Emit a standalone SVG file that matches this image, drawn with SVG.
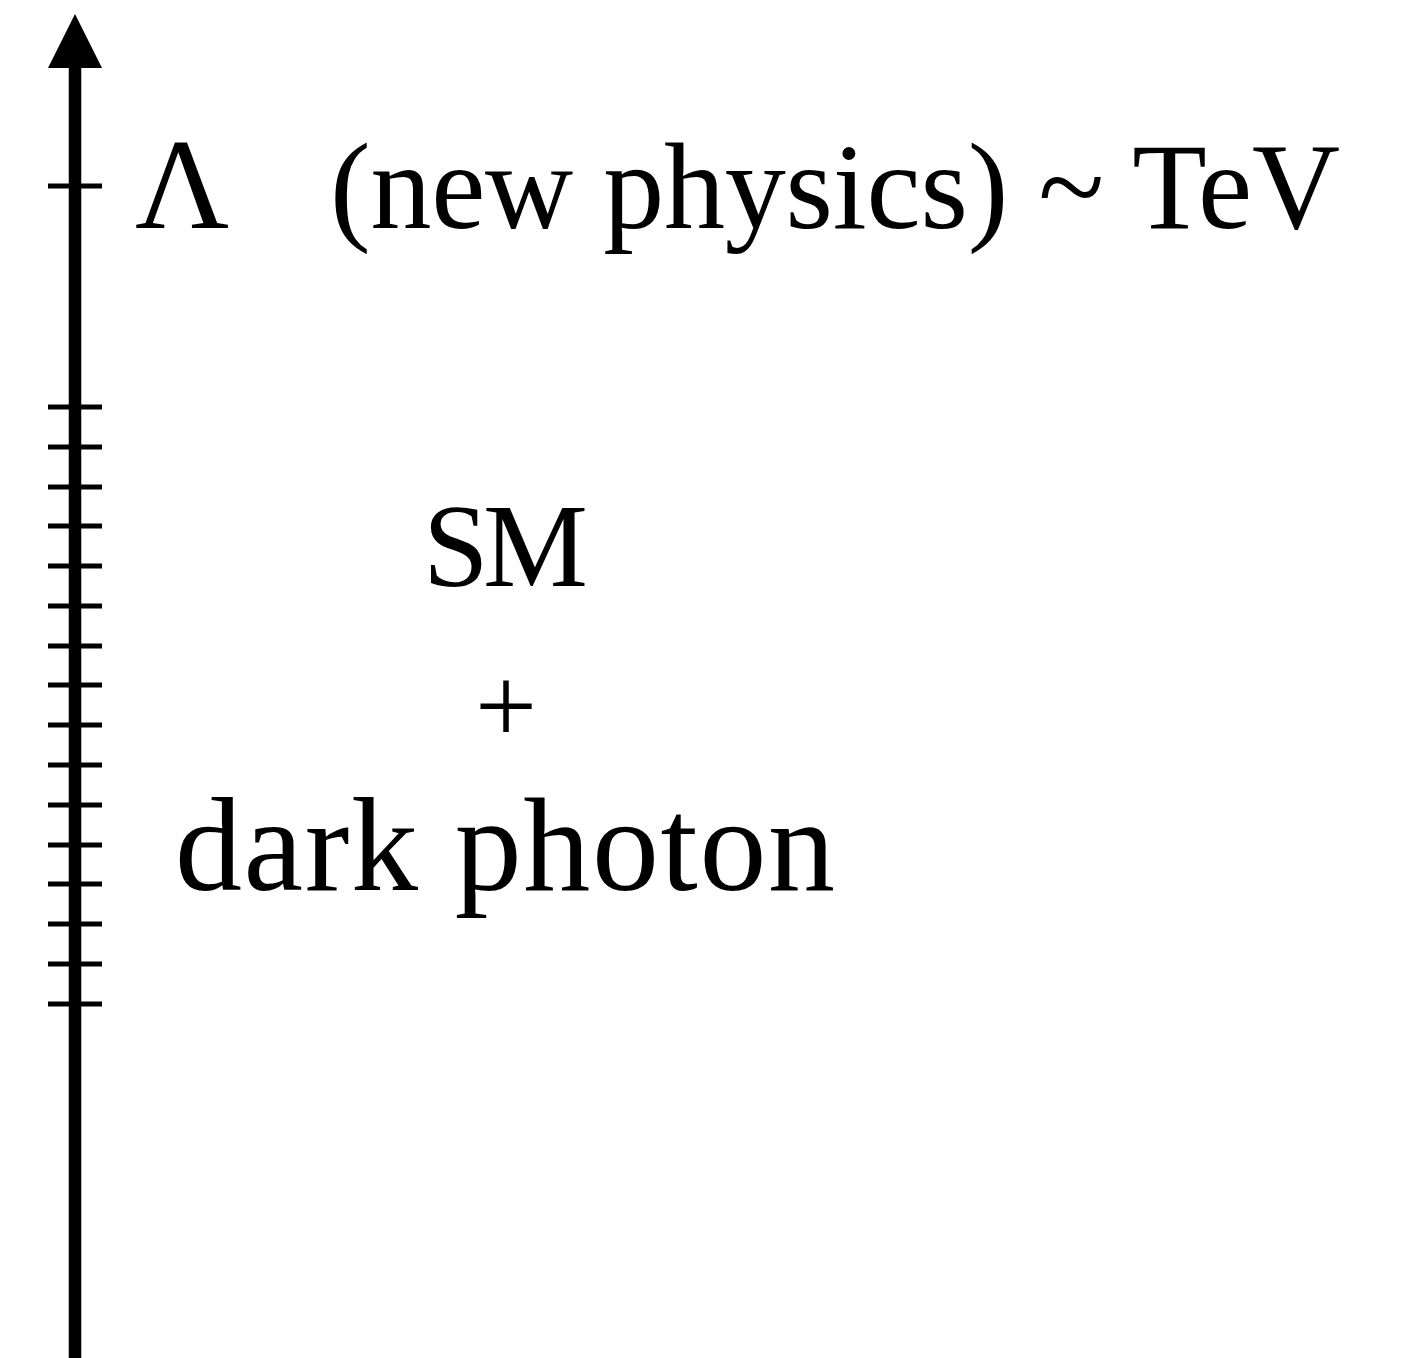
<svg xmlns="http://www.w3.org/2000/svg" width="1410" height="1358" viewBox="0 0 1410 1358">
<style>
.t{font-family:"Liberation Serif","DejaVu Serif",serif;fill:#000}
.tick{stroke:#000;stroke-width:5}
</style>
<rect width="1410" height="1358" fill="#fff"/>
<g id="axis">
<line x1="75" y1="1358" x2="75" y2="66" stroke="#000" stroke-width="12.5"/>
<polygon points="75,14 102,68 48,68" fill="#000"/>
<g class="tick">
<line x1="48" y1="186" x2="102" y2="186"/>
<line x1="48" y1="407" x2="102" y2="407"/>
<line x1="48" y1="447" x2="102" y2="447"/>
<line x1="48" y1="487" x2="102" y2="487"/>
<line x1="48" y1="526" x2="102" y2="526"/>
<line x1="48" y1="566" x2="102" y2="566"/>
<line x1="48" y1="606" x2="102" y2="606"/>
<line x1="48" y1="646" x2="102" y2="646"/>
<line x1="48" y1="685" x2="102" y2="685"/>
<line x1="48" y1="725" x2="102" y2="725"/>
<line x1="48" y1="765" x2="102" y2="765"/>
<line x1="48" y1="805" x2="102" y2="805"/>
<line x1="48" y1="845" x2="102" y2="845"/>
<line x1="48" y1="884" x2="102" y2="884"/>
<line x1="48" y1="924" x2="102" y2="924"/>
<line x1="48" y1="964" x2="102" y2="964"/>
<line x1="48" y1="1004" x2="102" y2="1004"/>
</g>
</g>
<g id="lambda"><text class="t" x="135" y="228" font-size="130" textLength="93">Λ</text></g>
<g id="newphysics"><text class="t" x="330" y="228" font-size="122" textLength="1010">(new physics) ~ TeV</text></g>
<g id="sm"><text class="t" x="423" y="586" font-size="118" textLength="165">SM</text></g>
<g id="plus"><text class="t" x="475" y="743" font-size="110">+</text></g>
<g id="darkphoton"><text class="t" x="175" y="890" font-size="134" textLength="660">dark photon</text></g>
</svg>
